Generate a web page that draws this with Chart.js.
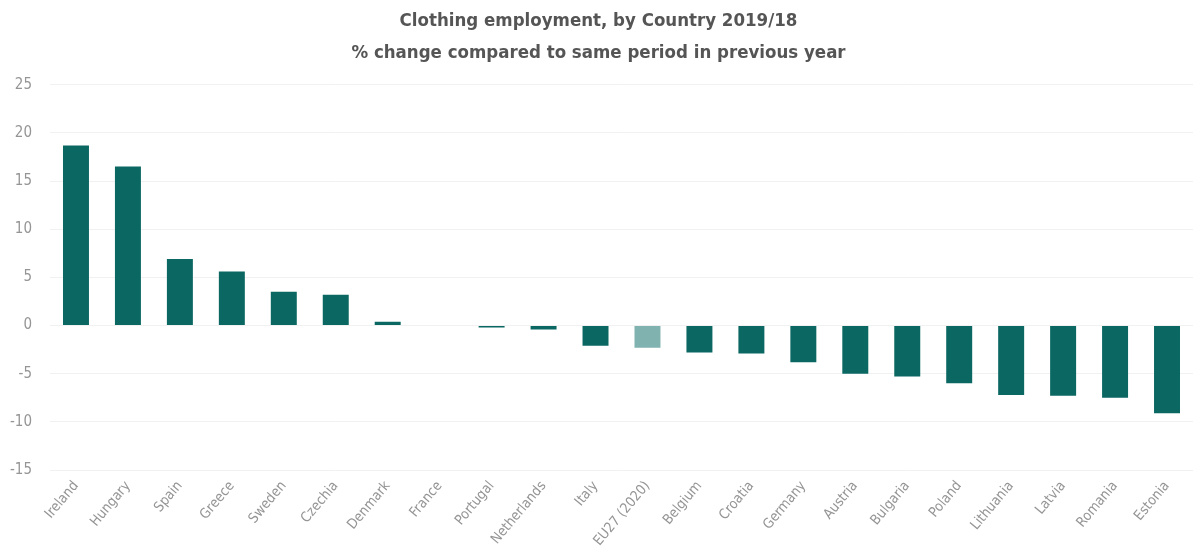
<!DOCTYPE html>
<html>
<head>
<meta charset="utf-8">
<title>Clothing employment</title>
<script src="https://cdn.jsdelivr.net/npm/chart.js@4"></script>
<style>
  html, body { margin: 0; padding: 0; background: #fff; }
  #wrap { width: 1202px; height: 560px; }
</style>
</head>
<body>
<div id="wrap"><canvas id="barChart" width="1202" height="560"></canvas></div>
<script>
// Countries, sorted by change
const countries = ['Ireland', 'Hungary', 'Spain', 'Greece', 'Sweden', 'Czechia', 'Denmark', 'France',
  'Portugal', 'Netherlands', 'Italy', 'EU27 (2020)', 'Belgium', 'Croatia', 'Germany', 'Austria',
  'Bulgaria', 'Poland', 'Lithuania', 'Latvia', 'Romania', 'Estonia'];

// % change 2019 vs 2018
const changes = [18.7, 16.5, 6.9, 5.6, 3.5, 3.2, 0.4, 0, -0.2, -0.4, -2.1, -2.3, -2.8, -2.9,
  -3.8, -5.0, -5.3, -6.0, -7.2, -7.3, -7.5, -9.1];

const yTicks = [25, 20, 15, 10, 5, 0, -5, -10, -15];

const FONT = "'DejaVu Sans Condensed', 'Open Sans', sans-serif";

// EU average gets the lighter shade
const barColors = countries.map(c => c.startsWith('EU27') ? '#80b2b0' : '#0b6762');

const ctxBar = document.getElementById('barChart').getContext('2d');
const barChart = new Chart(ctxBar, {
  type: 'bar',
  data: {
    labels: countries,
    datasets: [{
      label: 'Clothing employment',
      data: changes,
      backgroundColor: barColors,
      barPercentage: 0.5,
      categoryPercentage: 1.0
    }]
  },
  options: {
    responsive: false,
    animation: false,
    layout: {
      padding: { left: 4, right: 9, top: 0, bottom: 0 }
    },
    plugins: {
      legend: { display: false },
      tooltip: { enabled: false },
      title: {
        display: true,
        text: ['Clothing employment, by Country 2019/18', '% change compared to same period in previous year'],
        color: '#555555',
        font: { family: FONT, size: 18.5, weight: 'bold', lineHeight: 1.75 },
        padding: { top: 5, bottom: 15 }
      }
    },
    scales: {
      x: {
        grid: { display: false },
        border: { display: false },
        ticks: {
          color: '#959595',
          font: { family: FONT, size: 14 },
          minRotation: 50,
          maxRotation: 50,
          autoSkip: false,
          padding: 0
        },
        afterFit: scale => { scale.height = 90; }
      },
      y: {
        min: yTicks[yTicks.length - 1],
        max: yTicks[0],
        afterBuildTicks: scale => { scale.ticks = yTicks.map(v => ({ value: v })); },
        grid: { color: '#f1f1f1', lineWidth: 1, drawTicks: false },
        border: { display: false },
        ticks: {
          color: '#959595',
          font: { family: FONT, size: 15 },
          padding: 18
        },
        afterFit: scale => { scale.width = 46; }
      }
    }
  }
});
</script>
</body>
</html>
